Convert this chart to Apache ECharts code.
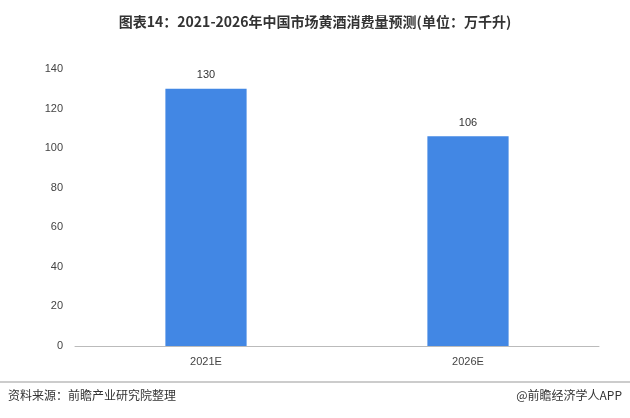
<!DOCTYPE html>
<html><head><meta charset="utf-8">
<script src="https://cdn.jsdelivr.net/npm/echarts@6/dist/echarts.min.js"></script>
<style>html,body{margin:0;padding:0;background:#fff}#c{width:630px;height:418px}</style>
</head><body><div id="c"></div>
<script>
const categories = ['2021E', '2026E'];
const values = [130, 106];
const chart = echarts.init(document.getElementById('c'));
chart.setOption({
  animation: false,
  title: {
    text: '图表14：2021-2026年中国市场黄酒消费量预测(单位：万千升)',
    left: 'center', top: 10,
    textStyle: {fontSize: 14, fontWeight: 'bold', color: '#333', fontFamily: 'Noto Sans CJK SC'}
  },
  graphic: [
    {type: 'line', shape: {x1: 0, y1: 382, x2: 630, y2: 382}, style: {stroke: '#999', lineWidth: 1}},
    {type: 'text', left: 8, top: 389, style: {text: '资料来源：前瞻产业研究院整理', fontSize: 12, fill: '#333', fontFamily: 'Noto Sans CJK SC'}},
    {type: 'text', right: 8, top: 389, style: {text: '@前瞻经济学人APP', fontSize: 12, fill: '#333', fontFamily: 'Noto Sans CJK SC'}}
  ],
  grid: {left: 75, right: 31, top: 69, bottom: 72},
  xAxis: {
    type: 'category', data: categories,
    axisLine: {lineStyle: {color: '#bbb'}}, axisTick: {show: false},
    axisLabel: {color: '#444', fontSize: 11, margin: 10}
  },
  yAxis: {
    type: 'value', min: 0, max: 140, interval: 20,
    axisLine: {show: false}, axisTick: {show: false}, splitLine: {show: false},
    axisLabel: {color: '#444', fontSize: 11, margin: 12}
  },
  series: [{
    type: 'bar', data: values, barWidth: '31%',
    itemStyle: {color: '#4287E4'},
    label: {show: true, position: 'top', color: '#333', fontSize: 11, distance: 8}
  }]
});
</script></body></html>
